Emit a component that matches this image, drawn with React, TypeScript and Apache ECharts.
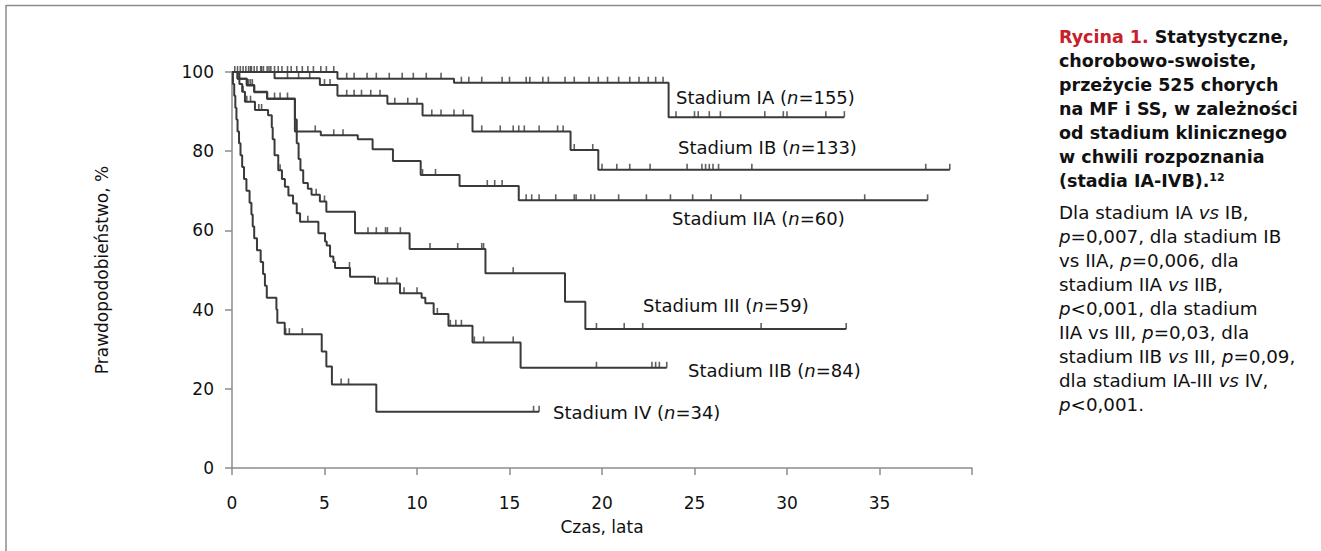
import React, { useEffect, useRef } from "react";
import * as echarts from "echarts";

// ---- Data ----
const xTicks = [0, 5, 10, 15, 20, 25, 30, 35, 40];

const iaTime = [0, 5.7, 12.0, 23.6, 33.1];
const iaSurv = [100, 98.3, 97.3, 88.6, 88.6];
const iaCens = [0.15, 0.3, 0.45, 0.6, 0.75, 0.9, 1.05, 1.2, 1.35, 1.55, 1.7, 1.9, 2.1, 2.3, 2.5, 2.7, 3.0, 3.2, 3.5, 3.8, 4.1, 4.4, 4.8, 5.1, 5.5, 6.2, 6.6, 7.3, 7.8, 8.5, 9.2, 9.8, 10.5, 11.3, 12.4, 12.8, 13.5, 14.6, 15.0, 15.9, 16.1, 16.8, 17.1, 18.0, 18.5, 19.3, 19.8, 20.3, 20.9, 21.5, 22.0, 22.5, 22.9, 23.3, 24.0, 25.0, 25.2, 25.8, 26.4, 28.8, 29.8, 30.0, 32.1, 33.1];

const ibTime = [0, 2.3, 4.75, 5.7, 8.4, 10.3, 13.0, 18.3, 19.8, 38.8];
const ibSurv = [100, 98.4, 96.7, 94.0, 92.0, 89.0, 85.0, 80.3, 75.3, 75.3];
const ibCens = [1.0, 1.6, 2.0, 3.0, 3.6, 4.2, 5.0, 5.3, 6.2, 6.6, 7.0, 7.5, 8.0, 8.8, 9.5, 10.0, 10.8, 11.3, 12.0, 12.5, 13.5, 14.5, 15.2, 15.5, 15.8, 16.6, 17.6, 17.9, 18.5, 19.5, 20.0, 20.8, 21.5, 22.6, 24.6, 25.4, 25.6, 25.8, 26.0, 26.3, 28.1, 37.5, 38.8];

const iiaTime = [0, 0.3, 0.8, 1.2, 1.9, 3.4, 4.8, 6.8, 7.6, 8.7, 10.2, 12.3, 15.5, 37.6];
const iiaSurv = [100, 98.3, 96.7, 95.0, 93.3, 85.0, 84.0, 83.0, 80.5, 77.5, 74.0, 71.2, 67.6, 67.6];
const iiaCens = [0.9, 1.0, 1.1, 2.3, 2.6, 3.0, 4.5, 5.5, 6.0, 10.3, 11.0, 13.8, 14.2, 14.6, 15.9, 16.2, 16.6, 17.5, 18.5, 18.6, 19.4, 19.6, 20.9, 22.4, 23.7, 24.9, 25.9, 27.5, 34.2, 37.6];

const iiiTime = [0, 0.3, 0.8, 1.2, 1.9, 3.4, 3.5, 3.6, 3.7, 3.85, 4.1, 4.3, 4.75, 5.1, 6.65, 9.6, 13.7, 18.0, 19.1, 33.2];
const iiiSurv = [100, 98.3, 96.6, 94.9, 93.2, 88.0, 82.0, 78.0, 75.2, 72.0, 70.5, 69.0, 67.3, 64.7, 59.3, 55.3, 49.2, 42.0, 35.1, 35.1];
const iiiCens = [4.55, 5.0, 7.35, 7.8, 8.3, 8.4, 9.1, 10.7, 12.2, 13.5, 13.6, 15.2, 19.7, 21.2, 22.2, 28.6, 33.2];

const iibTime = [0, 0.4, 0.55, 0.7, 1.24, 1.95, 2.15, 2.2, 2.3, 2.5, 2.7, 2.86, 3.05, 3.3, 3.5, 3.68, 4.67, 5.03, 5.12, 5.3, 5.48, 5.57, 6.38, 7.73, 9.08, 10.25, 10.45, 10.9, 11.7, 13.0, 15.6, 23.5];
const iibSurv = [100, 97.0, 95.0, 92.5, 90.4, 89.1, 86.0, 83.0, 79.0, 75.2, 73.0, 71.0, 68.8, 66.8, 64.3, 62.2, 59.3, 57.2, 56.2, 53.4, 52.0, 50.5, 48.3, 46.6, 44.1, 43.0, 41.6, 38.9, 35.9, 31.7, 25.3, 25.3];
const iibCens = [0.6, 0.8, 1.0, 1.45, 1.6, 2.6, 4.1, 6.35, 7.9, 8.4, 8.9, 9.3, 10.0, 11.1, 11.8, 12.1, 12.4, 13.1, 13.6, 15.2, 19.7, 22.7, 22.9, 23.1, 23.5];

const ivTime = [0, 0.05, 0.12, 0.18, 0.24, 0.3, 0.38, 0.46, 0.55, 0.65, 0.78, 0.95, 1.05, 1.12, 1.2, 1.35, 1.55, 1.68, 1.78, 1.88, 2.4, 2.45, 2.85, 4.85, 5.1, 5.4, 7.8, 16.6];
const ivSurv = [100, 97, 94, 91, 88, 85, 82, 79, 76, 73, 70, 67, 64, 61, 58, 55, 52, 49, 46, 43, 40, 36.7, 33.8, 29.4, 25.6, 21.1, 14.2, 14.2];
const ivCens = [2.9, 3.1, 3.8, 5.9, 6.3, 16.3, 16.6];

const curves = [
  { name: "IA", t: iaTime, s: iaSurv, c: iaCens },
  { name: "IB", t: ibTime, s: ibSurv, c: ibCens },
  { name: "IIA", t: iiaTime, s: iiaSurv, c: iiaCens },
  { name: "III", t: iiiTime, s: iiiSurv, c: iiiCens },
  { name: "IIB", t: iibTime, s: iibSurv, c: iibCens },
  { name: "IV", t: ivTime, s: ivSurv, c: ivCens },
];

const curveLabels = [
  { stage: "IA", n: "155", x: 676, y: 97 },
  { stage: "IB", n: "133", x: 678, y: 147 },
  { stage: "IIA", n: "60", x: 672, y: 218 },
  { stage: "III", n: "59", x: 643, y: 305 },
  { stage: "IIB", n: "84", x: 688, y: 370 },
  { stage: "IV", n: "34", x: 553, y: 412 },
];

const captionLines = [
  "{r|Rycina 1. }{b|Statystyczne,}",
  "{b|chorobowo-swoiste,}",
  "{b|przeżycie 525 chorych}",
  "{b|na MF i SS, w zależności}",
  "{b|od stadium klinicznego}",
  "{b|w chwili rozpoznania}",
  "{b|(stadia IA-IVB).}{sup|12}",
];
const noteLines = [
  "{n|Dla stadium IA }{i|vs}{n| IB,}",
  "{i|p}{n|=0,007, dla stadium IB}",
  "{n|vs IIA, }{i|p}{n|=0,006, dla}",
  "{n|stadium IIA }{i|vs}{n| IIB,}",
  "{i|p}{n|<0,001, dla stadium}",
  "{n|IIA vs III, }{i|p}{n|=0,03, dla}",
  "{n|stadium IIB }{i|vs}{n| III, }{i|p}{n|=0,09,}",
  "{n|dla stadium IA-III }{i|vs}{n| IV,}",
  "{i|p}{n|<0,001.}",
];

const FONT = "'DejaVu Sans', sans-serif";
const LINE = "#3a3a3a";
const AXIS = "#8c8c8c";

function survAt(t: number, times: number[], surv: number[]) {
  let v = surv[0];
  for (let i = 0; i < times.length; i++) if (times[i] <= t + 1e-9) v = surv[i];
  return v;
}

export default function App() {
  const ref = useRef<HTMLDivElement>(null);
  useEffect(() => {
    if (!ref.current) return;
    const chart = echarts.init(ref.current, undefined, { renderer: "svg" });
    const series: any[] = [];
    curves.forEach((c) => {
      series.push({
        type: "line",
        step: "end",
        symbol: "none",
        data: c.t.map((x, i) => [x, c.s[i]]),
        lineStyle: { color: LINE, width: 2 },
        z: 3,
      });
      series.push({
        type: "scatter",
        symbol: "rect",
        symbolSize: [1.6, 6],
        symbolOffset: [0, -3],
        itemStyle: { color: LINE },
        data: c.c.map((x) => [x, survAt(x, c.t, c.s)]),
        z: 4,
      });
    });

    const graphic: any[] = [
      { type: "line", shape: { x1: 6, y1: 5.5, x2: 1321, y2: 5.5 }, style: { stroke: AXIS, lineWidth: 1.5 } },
      { type: "line", shape: { x1: 6, y1: 5, x2: 6, y2: 551 }, style: { stroke: AXIS, lineWidth: 1.5 } },
    ];
    curveLabels.forEach((l) => {
      graphic.push({
        type: "text",
        x: l.x,
        y: l.y,
        style: {
          text: `{a|Stadium ${l.stage} (}{i|n}{a|=${l.n})}`,
          verticalAlign: "middle",
          rich: {
            a: { fontSize: 18, fontFamily: FONT, fill: "#111" },
            i: { fontSize: 18, fontFamily: FONT, fontStyle: "italic", fill: "#111" },
          },
        },
      });
    });
    const capRich = {
      r: { fontSize: 17.5, fontWeight: "bold", fontFamily: FONT, fill: "#c8202a" },
      b: { fontSize: 17.5, fontWeight: "bold", fontFamily: FONT, fill: "#111" },
      sup: { fontSize: 11, fontWeight: "bold", fontFamily: FONT, fill: "#111", verticalAlign: "top" },
      n: { fontSize: 18.3, fontFamily: FONT, fill: "#111" },
      i: { fontSize: 18.3, fontFamily: FONT, fontStyle: "italic", fill: "#111" },
    };
    captionLines.forEach((t, k) => {
      graphic.push({ type: "text", x: 1059, y: 37 + k * 24, style: { text: t, verticalAlign: "middle", rich: capRich } });
    });
    noteLines.forEach((t, k) => {
      graphic.push({ type: "text", x: 1059, y: 212 + k * 24, style: { text: t, verticalAlign: "middle", rich: capRich } });
    });

    chart.setOption({
      animation: false,
      grid: { left: 232, top: 72, width: 740, height: 396, containLabel: false },
      xAxis: {
        type: "value",
        min: xTicks[0],
        max: xTicks[xTicks.length - 1],
        interval: 5,
        axisLine: { show: true, lineStyle: { color: AXIS, width: 1.5 } },
        axisTick: { show: true, length: 7, lineStyle: { color: AXIS, width: 1.5 } },
        splitLine: { show: false },
        axisLabel: {
          fontSize: 17,
          fontFamily: FONT,
          color: "#111",
          margin: 26,
          formatter: (v: number) => (v === 40 ? "" : String(v)),
        },
        name: "Czas, lata",
        nameLocation: "middle",
        nameGap: 50,
        nameTextStyle: { fontSize: 17, fontFamily: FONT, color: "#111" },
      },
      yAxis: {
        type: "value",
        min: 0,
        max: 100,
        interval: 20,
        axisLine: { show: true, lineStyle: { color: AXIS, width: 1.5 } },
        axisTick: { show: true, length: 7, lineStyle: { color: AXIS, width: 1.5 } },
        splitLine: { show: false },
        axisLabel: { fontSize: 17, fontFamily: FONT, color: "#111", margin: 18 },
        name: "Prawdopodobieństwo, %",
        nameLocation: "middle",
        nameGap: 122,
        nameTextStyle: { fontSize: 17, fontFamily: FONT, color: "#111" },
      },
      series,
      graphic,
    });
    return () => chart.dispose();
  }, []);
  return <div ref={ref} style={{ position: "absolute", left: 0, top: 0, width: 1321, height: 551, background: "#fff" }} />;
}
